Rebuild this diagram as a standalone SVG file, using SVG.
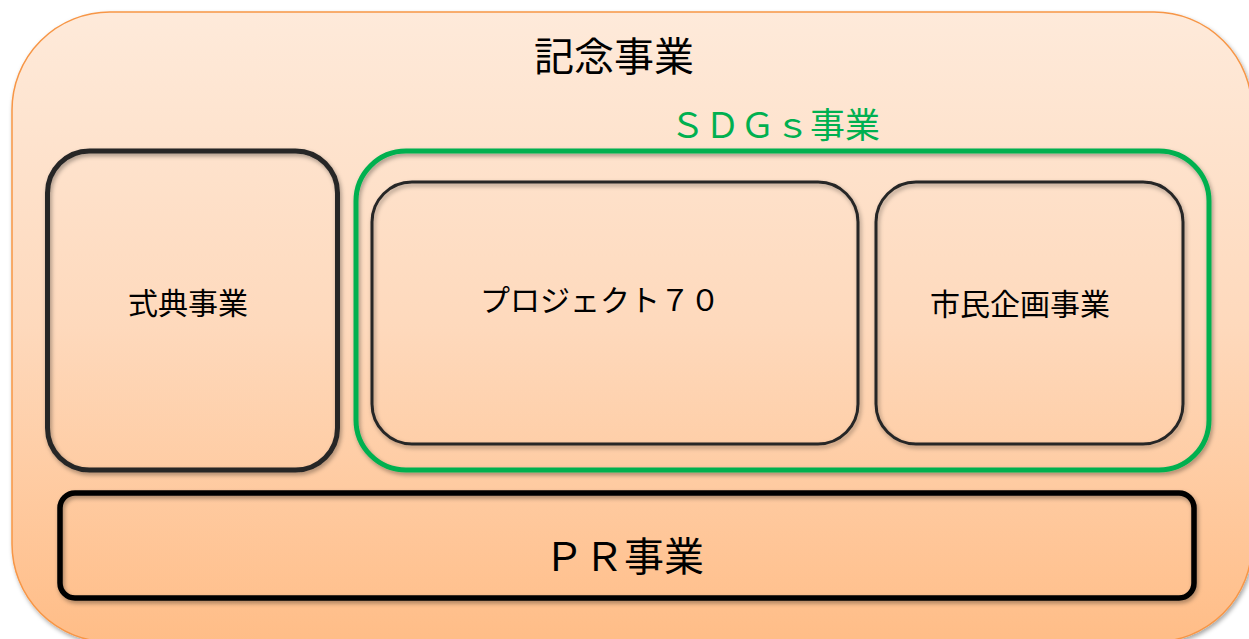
<svg xmlns="http://www.w3.org/2000/svg" width="1249" height="639" viewBox="0 0 1249 639">
<defs>
<linearGradient id="bg" x1="0" y1="0" x2="0" y2="1">
<stop offset="0" stop-color="#FEEADA"/>
<stop offset="0.5" stop-color="#FED9BC"/>
<stop offset="1" stop-color="#FFBD87"/>
</linearGradient>
<filter id="sh" x="-10%" y="-10%" width="120%" height="130%">
<feDropShadow dx="1.5" dy="2.5" stdDeviation="2" flood-color="#000" flood-opacity="0.35"/>
</filter>
</defs>
<style>
.t{font-family:"Noto Sans CJK JP","Noto Sans CJK SC",sans-serif;text-anchor:middle;fill:#000}
.box{fill:none;stroke:#262626}
</style>
<rect width="1249" height="639" fill="#ffffff"/>
<g id="kinen">
<rect x="12" y="12" width="1240" height="630" rx="98" ry="98" fill="url(#bg)" stroke="#F79646" stroke-width="1.5" filter="url(#sh)"/>
<text class="t" x="614" y="71" font-size="40">記念事業</text>
</g>
<g id="shikiten">
<rect class="box" x="47.5" y="151" width="290" height="319" rx="42" stroke-width="5" filter="url(#sh)"/>
<text class="t" x="188" y="314" font-size="30">式典事業</text>
</g>
<g id="sdgs">
<rect x="356" y="151" width="853" height="319" rx="50" fill="none" stroke="#00B050" stroke-width="5" filter="url(#sh)"/>
<text class="t" x="775" y="138" font-size="35" fill="#00B050" style="fill:#00B050">ＳＤＧｓ事業</text>
</g>
<g id="project70">
<rect class="box" x="372" y="182" width="486" height="262" rx="40" stroke-width="3" filter="url(#sh)"/>
<text class="t" x="600" y="311" font-size="30">プロジェクト７０</text>
</g>
<g id="shimin">
<rect class="box" x="876" y="182" width="307" height="262" rx="40" stroke-width="3" filter="url(#sh)"/>
<text class="t" x="1020" y="315" font-size="30">市民企画事業</text>
</g>
<g id="pr">
<rect x="60" y="493" width="1134" height="105" rx="15" fill="none" stroke="#000" stroke-width="5.5" filter="url(#sh)"/>
<text class="t" x="624" y="571" font-size="40">ＰＲ事業</text>
</g>
<g id="connectors"></g>
</svg>
